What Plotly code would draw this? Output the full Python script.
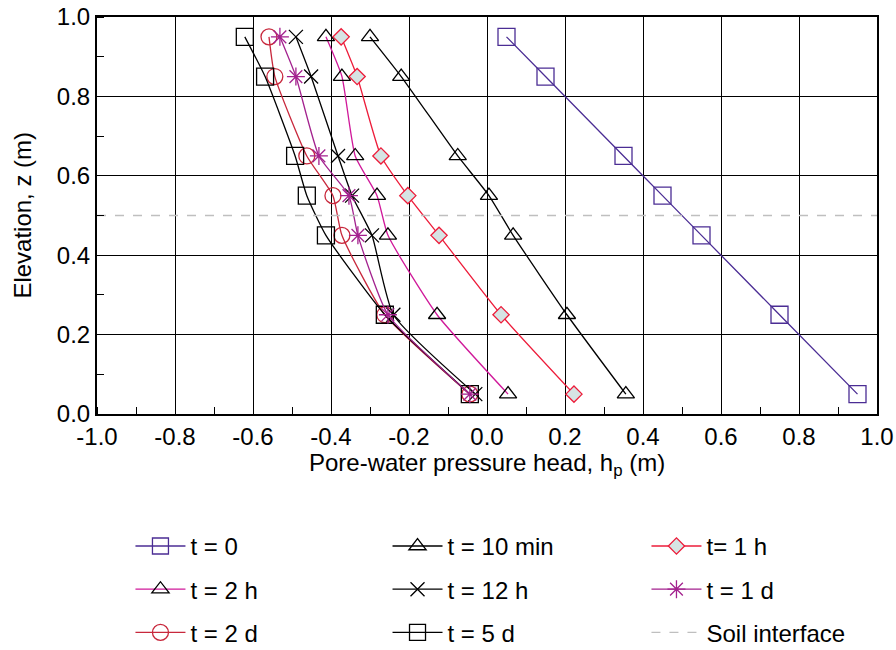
import plotly.graph_objects as go

z = [0.95, 0.85, 0.65, 0.55, 0.45, 0.25, 0.05]

hp_t0 = [0.05, 0.15, 0.35, 0.45, 0.55, 0.75, 0.95]
hp_10min = [-0.30, -0.22, -0.075, 0.005, 0.067, 0.205, 0.356]
hp_1h = [-0.374, -0.333, -0.272, -0.203, -0.123, 0.036, 0.223]
hp_2h = [-0.413, -0.372, -0.338, -0.282, -0.254, -0.128, 0.054]
hp_12h = [-0.49, -0.451, -0.382, -0.346, -0.295, -0.24, -0.03]
hp_1d = [-0.531, -0.49, -0.431, -0.354, -0.331, -0.254, -0.044]
hp_2d = [-0.559, -0.544, -0.462, -0.395, -0.372, -0.262, -0.044]
hp_5d = [-0.621, -0.569, -0.492, -0.462, -0.413, -0.262, -0.044]

interface_x = [-1.0, 1.0]
interface_z = [0.5, 0.5]

x_ticks = [-1.0, -0.8, -0.6, -0.4, -0.2, 0.0, 0.2, 0.4, 0.6, 0.8, 1.0]
x_ticklabels = ["-1.0", "-0.8", "-0.6", "-0.4", "-0.2", "0.0", "0.2", "0.4", "0.6", "0.8", "1.0"]
y_ticks = [0.0, 0.2, 0.4, 0.6, 0.8, 1.0]
y_ticklabels = ["0.0", "0.2", "0.4", "0.6", "0.8", "1.0"]

names = ["t = 0", "t = 10 min", "t= 1 h", "t = 2 h", "t = 12 h", "t = 1 d",
         "t = 2 d", "t = 5 d", "Soil interface"]

x_title = "Pore-water pressure head, h<sub>p</sub> (m)"
y_title = "Elevation, z (m)"

FONT = "Liberation Sans, Arial, sans-serif"

series = [
    (names[0], hp_t0, "#4B2D94", "square-open", 17, "#4B2D94", None, "legend"),
    (names[3], hp_2h, "#D0199A", "triangle-up-open", 15, "#000000", None, "legend"),
    (names[6], hp_2d, "#C8283C", "circle-open", 16, "#C8283C", None, "legend"),
    (names[1], hp_10min, "#000000", "triangle-up-open", 15, "#000000", None, "legend2"),
    (names[4], hp_12h, "#000000", "x-thin-open", 14, "#000000", None, "legend2"),
    (names[7], hp_5d, "#000000", "square-open", 17, "#000000", None, "legend2"),
    (names[2], hp_1h, "#ED1C3A", "diamond", 12.5, "#ED1C3A", "#D6E4E4", "legend3"),
    (names[5], hp_1d, "#A3218E", "asterisk-open", 15, "#A3218E", None, "legend3"),
]

fig = go.Figure()

for nm, xs, col, sym, sz, mcol, fill, leg in series:
    marker = dict(symbol=sym, size=sz, line=dict(color=mcol, width=1.3),
                  color=fill if fill else mcol)
    fig.add_trace(go.Scatter(
        x=xs, y=z, name=nm, mode="lines+markers",
        line=dict(color=col, width=1.3, shape="spline", smoothing=0.5),
        marker=marker, legend=leg, legendgroup=nm,
    ))

fig.add_trace(go.Scatter(
    x=interface_x, y=interface_z, name=names[8], mode="lines",
    line=dict(color="#BFBFBF", width=1.3, dash="dash"),
    legend="legend3", legendgroup=names[8],
))

axis_common = dict(
    showline=True, linecolor="#000000", linewidth=2, mirror=True,
    showgrid=True, gridcolor="#000000", gridwidth=1,
    zeroline=False, ticks="", tickfont=dict(family=FONT, size=24, color="#000"),
    minor=dict(dtick=0.1, tick0=0, ticks="inside", ticklen=7, tickcolor="#000",
               tickwidth=1, showgrid=False),
)

fig.update_xaxes(range=[-1, 1], tickmode="array", tickvals=x_ticks, ticktext=x_ticklabels,
                 **axis_common)
fig.update_yaxes(range=[0, 1], tickmode="array", tickvals=y_ticks, ticktext=y_ticklabels,
                 **axis_common)

leg_common = dict(orientation="v", xanchor="left", yanchor="top",
                  xref="container", yref="container",
                  font=dict(family=FONT, size=24, color="#000"),
                  bgcolor="rgba(0,0,0,0)", tracegroupgap=9, itemwidth=50)

fig.add_annotation(text=x_title, xref="paper", yref="paper", x=0.5, y=-0.128,
                   xanchor="center", yanchor="middle", showarrow=False,
                   font=dict(family=FONT, size=24, color="#000"))
fig.add_annotation(text=y_title, xref="paper", yref="paper", x=-0.096, y=0.5,
                   xanchor="center", yanchor="middle", showarrow=False, textangle=-90,
                   font=dict(family=FONT, size=24, color="#000"))

fig.update_layout(
    width=896, height=650,
    margin=dict(l=97, r=19, t=17, b=236, autoexpand=False),
    plot_bgcolor="#FFFFFF", paper_bgcolor="#FFFFFF",
    showlegend=True,
    legend=dict(x=0.1456, y=0.194, **leg_common),
    legend2=dict(x=0.4325, y=0.194, **leg_common),
    legend3=dict(x=0.7215, y=0.194, **leg_common),
)

fig.write_html("out.html")
